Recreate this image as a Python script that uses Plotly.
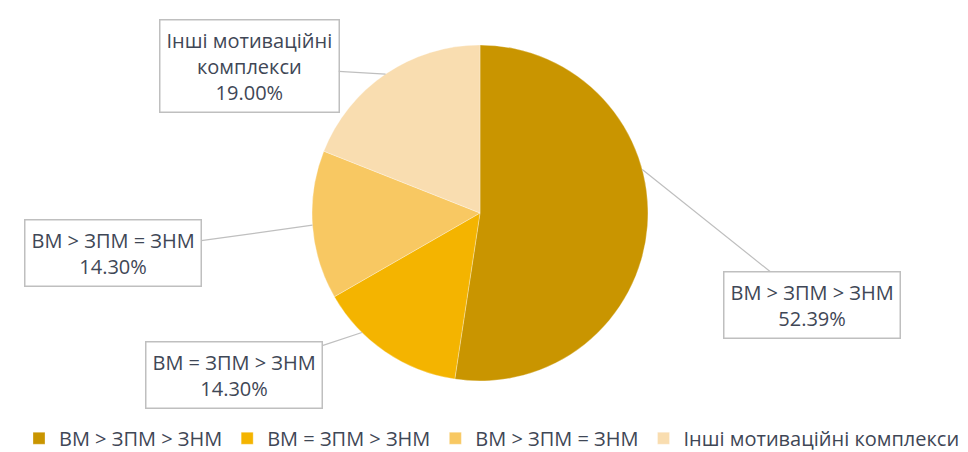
import numpy as np
import plotly.graph_objects as go

labels = ["ВМ > ЗПМ > ЗНМ", "ВМ = ЗПМ > ЗНМ", "ВМ > ЗПМ = ЗНМ", "Інші мотиваційні комплекси"]
box_labels = ["ВМ > ЗПМ > ЗНМ", "ВМ = ЗПМ > ЗНМ", "ВМ > ЗПМ = ЗНМ", "Інші мотиваційні<br>комплекси"]
values = [52.39, 14.30, 14.30, 19.00]
colors = ["#C99500", "#F4B400", "#F8C862", "#F9DDB0"]

W, H = 968, 452
CX, CY, R = 472, 205, 168
TEXT = "#3F4756"
FONT = "Open Sans"

def px(x):
    return x / W

def py(y):
    return 1 - y / H

fig = go.Figure(go.Pie(
    labels=labels, values=values, sort=False, direction="clockwise", rotation=0,
    marker=dict(colors=colors, line=dict(color="rgba(255,255,255,0.6)", width=0.5)),
    textinfo="none", hoverinfo="label+percent",
    domain=dict(x=[0, (2 * CX) / W], y=[py(CY + R), py(CY - R)]),
))

# label box centres (pixels) and angle along each slice for the pointer tip
box_centres = [(804, 297), (226, 367), (105, 245), (241, 58)]
tip_frac = [0.42, 0.7, 0.5, 0.5]
cum = np.concatenate([[0], np.cumsum(values)]) / sum(values) * 360
for i, lab in enumerate(box_labels):
    ang = np.radians(cum[i] + tip_frac[i] * (cum[i + 1] - cum[i]))
    if i == 0:
        ang = np.radians(75)
    tx = CX + R * np.sin(ang)
    ty = CY - R * np.cos(ang)
    bx, by = box_centres[i]
    fig.add_annotation(
        x=px(tx), y=py(ty), xref="paper", yref="paper",
        ax=bx - tx, ay=by - ty, axref="pixel", ayref="pixel",
        text=f"{lab}<br>{values[i]:.2f}%", showarrow=True, arrowhead=0,
        arrowwidth=1.2, arrowcolor="#BFBFBF",
        bordercolor="#BFBFBF", borderwidth=1.5, borderpad=6, bgcolor="white",
        font=dict(family=FONT, size=20, color=TEXT), align="center",
    )

fig.update_layout(
    width=W, height=H, autosize=False,
    margin=dict(l=0, r=0, t=0, b=0),
    paper_bgcolor="white", plot_bgcolor="white",
    font=dict(family=FONT, size=20, color=TEXT),
    showlegend=True,
    legend=dict(orientation="h", x=0.5, xanchor="center", y=0.005, yanchor="bottom",
                font=dict(family=FONT, size=20, color=TEXT), traceorder="normal",
                itemwidth=30, tracegroupgap=0),
)

fig.write_html("out.html")
